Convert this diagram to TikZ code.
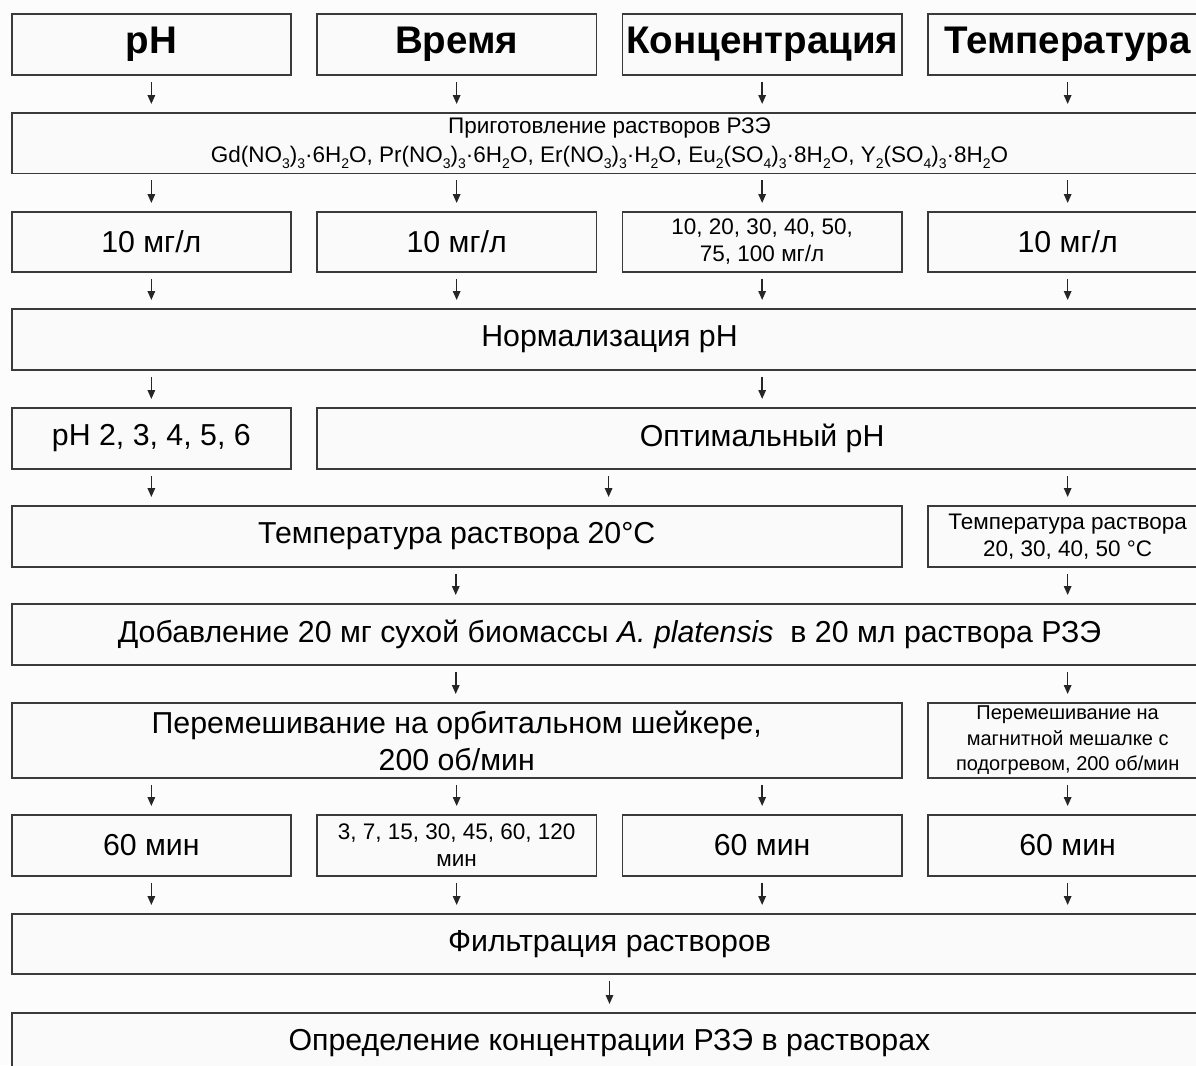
\documentclass[tikz,border=0pt]{standalone}
\usepackage{fontspec}
\setmainfont{Liberation Sans}
\usetikzlibrary{arrows.meta,calc}
\definecolor{boxline}{HTML}{3A3A3A}
\definecolor{boxfill}{HTML}{FAFAFA}
\definecolor{bgfill}{HTML}{FCFCFC}
\newcommand\chs[1]{\raisebox{-0.5ex}{\fontsize{14}{14}\selectfont #1}}
\begin{document}
\begin{tikzpicture}[x=1pt,y=-1pt,
  box/.style={draw=boxline, line width=1.8pt, fill=boxfill, rectangle, inner sep=0pt,
    anchor=north west, align=center, minimum height=61pt, font=\fontsize{30.3}{37}\selectfont},
  colbox/.style={box, minimum width=279.5pt},
  fullbox/.style={box, minimum width=1195.8pt},
  threebox/.style={box, minimum width=890.3pt},
  hdr/.style={font=\fontsize{38.5}{40}\selectfont\bfseries},
  midtxt/.style={font=\fontsize{22.5}{27}\selectfont},
  smltxt/.style={font=\fontsize{20}{25.5}\selectfont},
  arr/.style={-{Triangle[width=7.5pt,length=9pt]}, line width=1.5pt, draw=black!85,
    shorten <=6pt, shorten >=8pt}
]
\useasboundingbox (0,0) rectangle (1196,1065);
\clip (0,0) rectangle (1196,1065);
\fill[bgfill] (0,0) rectangle (1196,1065);

% column centre coordinates
\coordinate (k1) at (150.45,0);
\coordinate (k2) at (455.75,0);
\coordinate (k3) at (761.25,0);
\coordinate (k4) at (1066.75,0);
\coordinate (km) at (608.6,0);

% row 1
\node[colbox,hdr] (h1) at (10.7,13) {pH};
\node[colbox,hdr] (h2) at (316,13) {Время};
\node[colbox,hdr] (h3) at (621.5,13) {Концентрация};
\node[colbox,hdr] (h4) at (927,13) {Температура};
% row 2
\node[fullbox,minimum height=60.5pt,font=\fontsize{22.5}{29}\selectfont] (prep) at (10.7,112)
 {Приготовление растворов РЗЭ\\
  Gd(NO\chs{3})\chs{3}·6H\chs{2}O, Pr(NO\chs{3})\chs{3}·6H\chs{2}O, Er(NO\chs{3})\chs{3}·H\chs{2}O, Eu\chs{2}(SO\chs{4})\chs{3}·8H\chs{2}O, Y\chs{2}(SO\chs{4})\chs{3}·8H\chs{2}O};
% row 3
\node[colbox,minimum height=60pt] (c1) at (10.7,211) {10 мг/л};
\node[colbox,minimum height=60pt] (c2) at (316,211) {10 мг/л};
\node[colbox,minimum height=60pt,midtxt] (c3) at (621.5,211) {10, 20, 30, 40, 50,\\75, 100 мг/л};
\node[colbox,minimum height=60pt] (c4) at (927,211) {10 мг/л};
% row 4
\node[fullbox] (norm) at (10.7,308) {Нормализация pH};
% row 5
\node[colbox] (p1) at (10.7,407) {pH 2, 3, 4, 5, 6};
\node[box,minimum width=890.5pt] (opt) at (316,407) {Оптимальный pH};
% row 6
\node[threebox] (t20) at (10.7,505) {Температура раствора 20°C};
\node[colbox,midtxt] (t4) at (927,505) {Температура раствора\\20, 30, 40, 50 °C};
% row 7
\node[fullbox] (add) at (10.7,603) {Добавление 20 мг сухой биомассы \textit{A. platensis}\ \ в 20 мл раствора РЗЭ};
% row 8
\node[threebox,minimum height=75pt] (mix) at (10.7,702) {Перемешивание на орбитальном шейкере,\\200 об/мин};
\node[colbox,minimum height=75pt,smltxt] (mix4) at (927,702) {Перемешивание на\\магнитной мешалке с\\подогревом, 200 об/мин};
% row 9
\node[colbox] (m1) at (10.7,814) {60 мин};
\node[colbox,midtxt] (m2) at (316,814) {3, 7, 15, 30, 45, 60, 120\\мин};
\node[colbox] (m3) at (621.5,814) {60 мин};
\node[colbox] (m4) at (927,814) {60 мин};
% row 10
\node[fullbox,minimum height=60pt] (filt) at (10.7,913) {Фильтрация растворов};
% row 11
\node[fullbox] (det) at (10.7,1012) {Определение концентрации РЗЭ в растворах};

% arrows
\foreach \i in {1,2,3,4}{
  \draw[arr] (h\i.south) -- (prep.north -| h\i.south);
  \draw[arr] (prep.south -| c\i.north) -- (c\i.north);
  \draw[arr] (c\i.south) -- (norm.north -| c\i.south);
  \draw[arr] (mix.south -| m\i.north) -- (m\i.north);
  \draw[arr] (m\i.south) -- (filt.north -| m\i.south);
}
\draw[arr] (norm.south -| p1.north) -- (p1.north);
\draw[arr] (norm.south -| opt.north) -- (opt.north);
\draw[arr] (p1.south) -- (t20.north -| p1.south);
\draw[arr] (opt.south -| km) -- (t20.north -| km);
\draw[arr] (opt.south -| t4.north) -- (t4.north);
\draw[arr] (t20.south -| k2) -- (add.north -| k2);
\draw[arr] (t4.south) -- (add.north -| t4.south);
\draw[arr] (add.south -| k2) -- (mix.north -| k2);
\draw[arr] (add.south -| mix4.north) -- (mix4.north);
\draw[arr] (filt.south) -- (det.north);
\end{tikzpicture}
\end{document}
